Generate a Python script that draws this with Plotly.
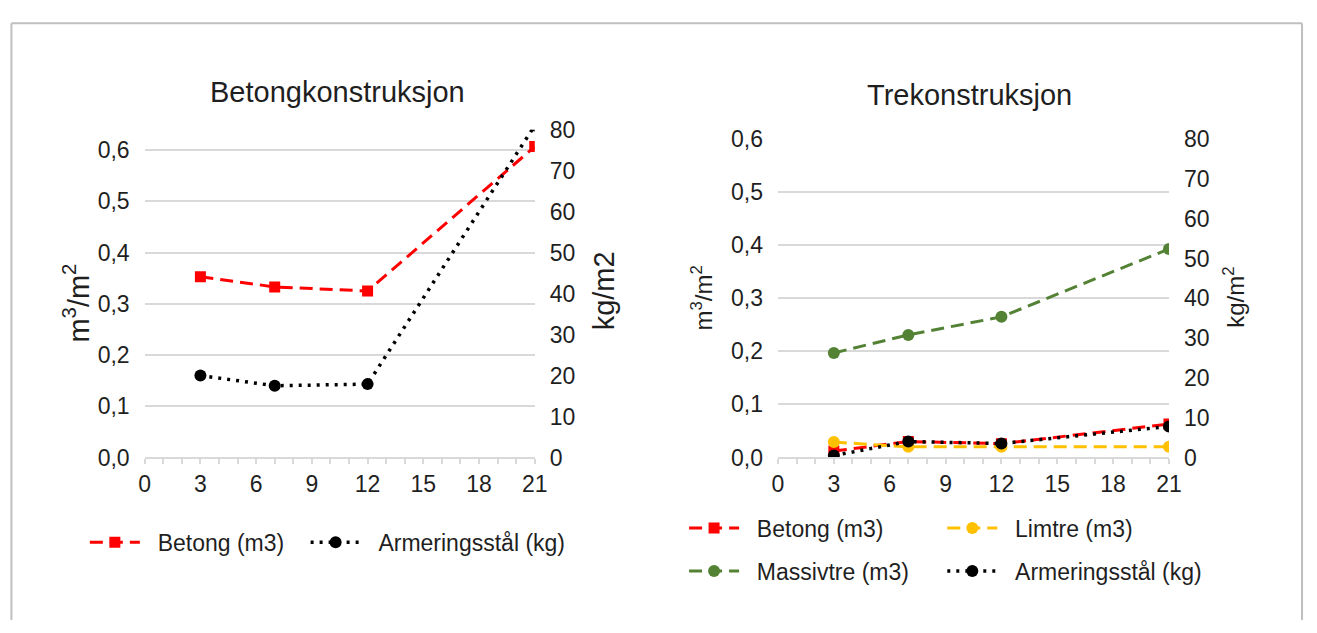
import plotly.graph_objects as go

# ---- data ----
etasjer = [3, 7, 12, 21]

# Betongkonstruksjon
betong_betong = [0.353, 0.333, 0.325, 0.607]      # m3/m2
betong_armering = [20.0, 17.5, 17.9, 81.0]        # kg/m2

# Trekonstruksjon
tre_betong = [0.012, 0.030, 0.026, 0.063]          # m3/m2
tre_limtre = [0.029, 0.020, 0.020, 0.020]          # m3/m2
tre_massivtre = [0.197, 0.231, 0.265, 0.393]       # m3/m2
tre_armering = [0.5, 4.0, 3.5, 7.8]                # kg/m2

x_ticks = [0, 3, 6, 9, 12, 15, 18, 21]

W, H = 1317, 633
FONT = "Liberation Sans, Arial, sans-serif"
TXT = "#1f1f1f"
GRID = "#d9d9d9"
RED = "#ff0000"
YELLOW = "#ffc000"
GREEN = "#548235"
BLACK = "#000000"

DASH = "13px,7px"
DOT = "3px,6px"
NB = "\u00a0\u00a0"


def px(x):
    return x / W


def py(y):
    return 1 - y / H


def series(x, y, name, xa, ya, color, dash, symbol, legend, width=3, size=12):
    return go.Scatter(
        x=x, y=y, name=NB + name, xaxis=xa, yaxis=ya, mode="lines+markers",
        line=dict(color=color, width=width, dash=dash),
        marker=dict(symbol=symbol, size=size, color=color), legend=legend)


fig = go.Figure()

# Left chart
fig.add_trace(series(etasjer, betong_betong, "Betong (m3)", "x", "y", RED, DASH, "square", "legend", size=11))
fig.add_trace(series(etasjer, betong_armering, "Armeringsstål (kg)", "x", "y2", BLACK, DOT, "circle", "legend2", width=3.5))

# Right chart
fig.add_trace(series(etasjer, tre_betong, "Betong (m3)", "x2", "y3", RED, DASH, "square", "legend3", size=11))
fig.add_trace(series(etasjer, tre_limtre, "Limtre (m3)", "x2", "y3", YELLOW, DASH, "circle", "legend4"))
fig.add_trace(series(etasjer, tre_massivtre, "Massivtre (m3)", "x2", "y3", GREEN, DASH, "circle", "legend5"))
fig.add_trace(series(etasjer, tre_armering, "Armeringsstål (kg)", "x2", "y4", BLACK, DOT, "circle", "legend6", width=3.5))

tickfont = dict(family=FONT, size=23, color=TXT)

xcommon = dict(
    range=[0, 21], tickvals=x_ticks, showgrid=False, zeroline=False,
    showline=True, linecolor=GRID, linewidth=2,
    ticks="outside", ticklen=5, tickwidth=1.5, tickcolor=GRID,
    minor=dict(dtick=1, ticks="outside", ticklen=5, tickwidth=1.5, tickcolor=GRID),
    tickfont=tickfont, fixedrange=True,
)
ycommon = dict(
    showgrid=True, gridcolor=GRID, gridwidth=1.5, zeroline=False,
    showline=False, ticks="", tickfont=tickfont, ticklabelstandoff=14,
)
y2common = dict(
    side="right", range=[0, 80], dtick=10, showgrid=False, zeroline=False,
    showline=False, ticks="", tickfont=tickfont, ticklabelstandoff=14,
)

L_X0, L_X1 = 140.7, 536.5
R_X0, R_X1 = 783.3, 1180.0
BOTTOM = 463.5
L_TOP, R_TOP = 121.7, 131.5


def legend_at(x, y):
    return dict(orientation="h", x=px(x), y=py(y), xanchor="left", yanchor="middle",
                font=dict(family=FONT, size=23, color=TXT), itemwidth=50,
                bgcolor="rgba(0,0,0,0)", borderwidth=0)


fig.update_layout(
    width=W, height=H,
    margin=dict(l=0, r=0, t=0, b=0),
    paper_bgcolor="white", plot_bgcolor="white",
    separators=", ",
    font=dict(family=FONT, size=23, color=TXT),
    xaxis=dict(domain=[px(L_X0), px(L_X1)], anchor="y", **xcommon),
    yaxis=dict(domain=[py(BOTTOM), py(L_TOP)], anchor="x", range=[0, 0.64],
               tickvals=[0, 0.1, 0.2, 0.3, 0.4, 0.5, 0.6], tickformat=".1f", **ycommon),
    yaxis2=dict(domain=[py(BOTTOM), py(L_TOP)], anchor="x", overlaying="y", **y2common),
    xaxis2=dict(domain=[px(R_X0), px(R_X1)], anchor="y3", **xcommon),
    yaxis3=dict(domain=[py(BOTTOM), py(R_TOP)], anchor="x2", range=[0, 0.6],
                tickvals=[0, 0.1, 0.2, 0.3, 0.4, 0.5, 0.6], tickformat=".1f", **ycommon),
    yaxis4=dict(domain=[py(BOTTOM), py(R_TOP)], anchor="x2", overlaying="y3", **y2common),
    legend=legend_at(80, 552),
    legend2=legend_at(304, 552),
    legend3=legend_at(688, 537),
    legend4=legend_at(950, 537),
    legend5=legend_at(688, 582),
    legend6=legend_at(950, 582),
    showlegend=True,
)

# Chart titles
for text, x, y in [("Betongkonstruksjon", 336, 82), ("Trekonstruksjon", 978, 86)]:
    fig.add_annotation(text=text, x=px(x), y=py(y), xref="paper", yref="paper",
                       showarrow=False, xanchor="center", yanchor="middle",
                       font=dict(family=FONT, size=29, color=TXT))

# Axis titles
axis_titles = [
    ("m<sup>3</sup>/m<sup>2</sup>", 71, 302, 29),
    ("kg/m2", 607, 290, 29),
    ("m<sup>3</sup>/m<sup>2</sup>", 706, 297, 24),
    ("kg/m<sup>2</sup>", 1246, 297, 24),
]
for text, x, y, size in axis_titles:
    fig.add_annotation(text=text, x=px(x), y=py(y), xref="paper", yref="paper",
                       showarrow=False, textangle=-90, xanchor="center", yanchor="middle",
                       font=dict(family=FONT, size=size, color=TXT))

# Outer frame: top, left and right edges, kept inside the page
FRAME = dict(color="#bfbfbf", width=2)
for x0, y0, x1, y1 in [(5.5, 10.7, 1315, 10.7), (5.5, 10.7, 5.5, 633), (1315, 10.7, 1315, 633)]:
    fig.add_shape(type="line", xref="paper", yref="paper",
                  x0=px(x0), y0=py(y0), x1=px(x1), y1=py(y1), line=FRAME, layer="below")

fig.write_html("out.html", config={"displayModeBar": False})
